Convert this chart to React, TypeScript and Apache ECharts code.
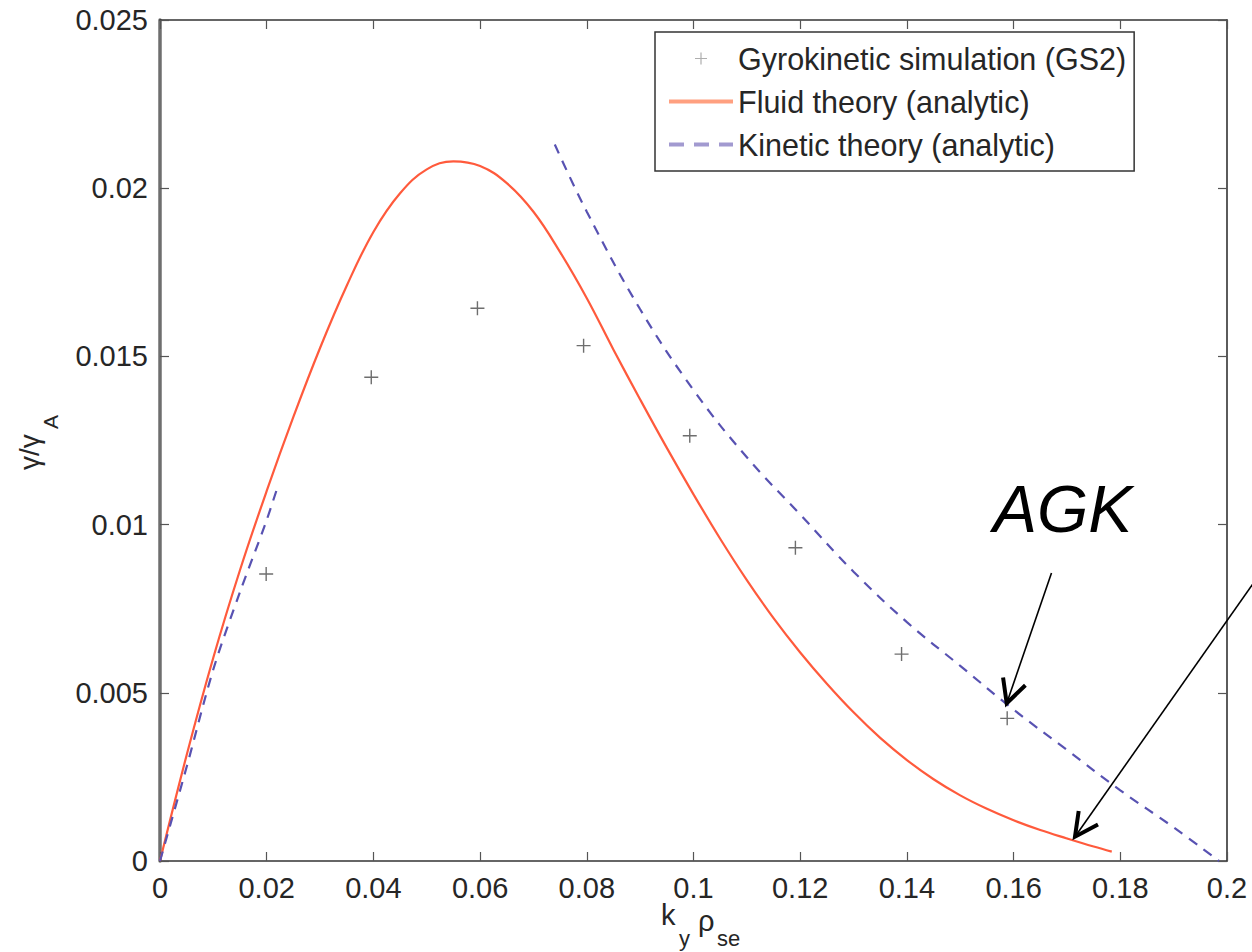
import React, { useEffect, useRef } from "react";
import * as echarts from "echarts";

const FONT = '"Liberation Sans", Arial, Helvetica, sans-serif';

// Gyrokinetic simulation (GS2) points
const gsX = [0.0199, 0.0396, 0.0595, 0.0794, 0.0993, 0.1191, 0.139, 0.1588];
const gsY = [0.00853, 0.01438, 0.01643, 0.01532, 0.01264, 0.00931, 0.00615, 0.00424];

// Fluid theory (analytic)
const fluidX = [0, 0.005, 0.01, 0.015, 0.02, 0.025, 0.03, 0.035, 0.04, 0.045, 0.05, 0.055, 0.06, 0.065, 0.07, 0.075, 0.08, 0.085, 0.09, 0.095, 0.1, 0.105, 0.11, 0.115, 0.12, 0.125, 0.13, 0.135, 0.14, 0.145, 0.15, 0.155, 0.16, 0.165, 0.17, 0.175, 0.1784];
const fluidY = [0, 0.00315, 0.00605, 0.00865, 0.011, 0.0132, 0.01525, 0.0171, 0.0187, 0.01985, 0.02056, 0.0208, 0.02066, 0.02015, 0.0193, 0.0181, 0.01673, 0.0152, 0.01372, 0.01228, 0.0109, 0.00958, 0.00835, 0.00722, 0.0062, 0.00527, 0.00442, 0.00366, 0.003, 0.00243, 0.00195, 0.00155, 0.00121, 0.00092, 0.00067, 0.00043, 0.00028];

// Kinetic theory (analytic): low-k branch and high-k branch
const kinLowX = [0, 0.005, 0.01, 0.015, 0.0197, 0.0218];
const kinLowY = [0, 0.0028, 0.0057, 0.008, 0.01, 0.011];
const kinHighX = [0.074, 0.08, 0.09, 0.1, 0.11, 0.12, 0.13, 0.14, 0.15, 0.16, 0.17, 0.18, 0.19, 0.1985];
const kinHighY = [0.0213, 0.0193, 0.0164, 0.014, 0.012, 0.0103, 0.0086, 0.0071, 0.0058, 0.0045, 0.0033, 0.0021, 0.001, 0];

const xTicks = { min: 0, max: 0.2, interval: 0.02 };
const yTicks = { min: 0, max: 0.025, interval: 0.005 };

const SERIES_GS = "Gyrokinetic simulation (GS2)";
const SERIES_FLUID = "Fluid theory (analytic)";
const SERIES_KIN = "Kinetic theory (analytic)";

const zip = (xs: number[], ys: number[]) => xs.map((x, i) => [x, ys[i]]);
const fmt = (v: number) => parseFloat(v.toFixed(4)).toString();

const PLUS = "path://M-1,-10 L1,-10 L1,10 L-1,10 Z M-10,-1 L10,-1 L10,1 L-10,1 Z";

function arrow(tail: [number, number], tip: [number, number], headLen: number, angDeg: number) {
  const dx = tail[0] - tip[0];
  const dy = tail[1] - tip[1];
  const L = Math.hypot(dx, dy);
  const bx = dx / L, by = dy / L;
  const a = (angDeg * Math.PI) / 180;
  const r = (s: number) => [
    tip[0] + headLen * (bx * Math.cos(s * a) - by * Math.sin(s * a)),
    tip[1] + headLen * (bx * Math.sin(s * a) + by * Math.cos(s * a)),
  ];
  return [
    { type: "line", shape: { x1: tail[0], y1: tail[1], x2: tip[0], y2: tip[1] }, style: { stroke: "#000", lineWidth: 1.6 }, z: 100 },
    { type: "polyline", shape: { points: [r(1), tip, r(-1)] }, style: { stroke: "#000", lineWidth: 4, fill: null, lineJoin: "miter" }, z: 100 },
  ];
}

export default function App() {
  const ref = useRef<HTMLDivElement>(null);
  useEffect(() => {
    if (!ref.current) return;
    const chart = echarts.init(ref.current, undefined, { renderer: "svg" });
    const axisLabel = { fontSize: 29, color: "#262626", fontFamily: FONT, formatter: fmt };
    const tick = { show: true, inside: true, length: 9, lineStyle: { color: "#555", width: 1.2 } };
    chart.setOption({
      animation: false,
      backgroundColor: "#fff",
      grid: { left: 160, top: 20, right: 25, bottom: 91, containLabel: false },
      xAxis: [
        {
          type: "value", ...xTicks, position: "bottom",
          axisLine: { show: true, onZero: false, lineStyle: { color: "#333", width: 1.6 } },
          axisTick: tick, splitLine: { show: false },
          axisLabel: { ...axisLabel, margin: 12 },
        },
        {
          type: "value", ...xTicks, position: "top",
          axisLine: { show: true, onZero: false, lineStyle: { color: "#333", width: 1.6 } },
          axisTick: tick, splitLine: { show: false }, axisLabel: { show: false },
        },
      ],
      yAxis: [
        {
          type: "value", ...yTicks, position: "left",
          axisLine: { show: true, onZero: false, lineStyle: { color: "#6e6e6e", width: 3.5 } },
          axisTick: tick, splitLine: { show: false },
          axisLabel: { ...axisLabel, margin: 12 },
        },
        {
          type: "value", ...yTicks, position: "right",
          axisLine: { show: true, onZero: false, lineStyle: { color: "#333", width: 1.6 } },
          axisTick: tick, splitLine: { show: false }, axisLabel: { show: false },
        },
      ],
      legend: {
        orient: "vertical", left: 655, top: 32,
        padding: [11, 8, 11, 12], itemGap: 12, itemWidth: 64, itemHeight: 12,
        borderColor: "#333", borderWidth: 1.5, backgroundColor: "#fff", borderRadius: 0,
        textStyle: { fontSize: 30.5, color: "#262626", fontFamily: FONT, lineHeight: 30 },
        data: [
          { name: SERIES_GS, icon: PLUS, itemStyle: { color: "#9a9a9a" } },
          { name: SERIES_FLUID, itemStyle: { opacity: 0 }, lineStyle: { color: "#ffa080", width: 4 } },
          { name: SERIES_KIN, itemStyle: { opacity: 0 }, lineStyle: { color: "#a29ad0", width: 4, type: [15, 10] } },
        ],
      },
      series: [
        {
          name: SERIES_GS, type: "scatter", data: zip(gsX, gsY),
          symbol: PLUS, symbolSize: 14, symbolKeepAspect: true,
          itemStyle: { color: "#4a4a4a" }, z: 3,
        },
        {
          name: SERIES_FLUID, type: "line", data: zip(fluidX, fluidY),
          smooth: 0.4, symbol: "none", showSymbol: false,
          lineStyle: { color: "#ff5a3c", width: 2.2 }, itemStyle: { color: "#ff5a3c" }, z: 4,
        },
        {
          name: SERIES_KIN, type: "line", data: zip(kinLowX, kinLowY),
          smooth: 0.3, symbol: "none", showSymbol: false,
          lineStyle: { color: "#5852b2", width: 2.2, type: [10, 8] }, itemStyle: { color: "#5852b2" }, z: 4,
        },
        {
          name: SERIES_KIN, type: "line", data: zip(kinHighX, kinHighY),
          smooth: 0.4, symbol: "none", showSymbol: false,
          lineStyle: { color: "#5852b2", width: 2.2, type: [10, 8] }, itemStyle: { color: "#5852b2" }, z: 4,
        },
      ],
      graphic: [
        // x-axis name: k_y rho_se
        { type: "text", left: 661, top: 900, style: { text: "k", font: `29px ${FONT}`, fill: "#262626" } },
        { type: "text", left: 679, top: 927, style: { text: "y", font: `22px ${FONT}`, fill: "#262626" } },
        { type: "text", left: 698, top: 906, style: { text: "ρ", font: `29px ${FONT}`, fill: "#262626" } },
        { type: "text", left: 717, top: 927, style: { text: "se", font: `22px ${FONT}`, fill: "#262626" } },
        // y-axis name: gamma / gamma_A (rotated)
        {
          type: "group", x: 29, y: 441, rotation: Math.PI / 2,
          children: [
            { type: "text", x: -29, y: 0, style: { text: "γ/γ", font: `28px ${FONT}`, fill: "#262626", align: "left", verticalAlign: "middle" } },
            { type: "text", x: 12, y: 21, style: { text: "A", font: `21px ${FONT}`, fill: "#262626", align: "left", verticalAlign: "middle" } },
          ],
        },
        // AGK annotation
        { type: "text", x: 993, y: 509, style: { text: "AGK", font: `italic 66px ${FONT}`, fill: "#000", align: "left", verticalAlign: "middle" }, z: 100 },
        ...arrow([1051.5, 573], [1006.7, 703.3], 26, 27),
        ...arrow([1262, 571], [1075, 836.7], 26, 27),
      ],
    });
    return () => chart.dispose();
  }, []);
  return <div ref={ref} style={{ position: "fixed", left: 0, top: 0, width: 1252, height: 952, background: "#fff" }} />;
}
